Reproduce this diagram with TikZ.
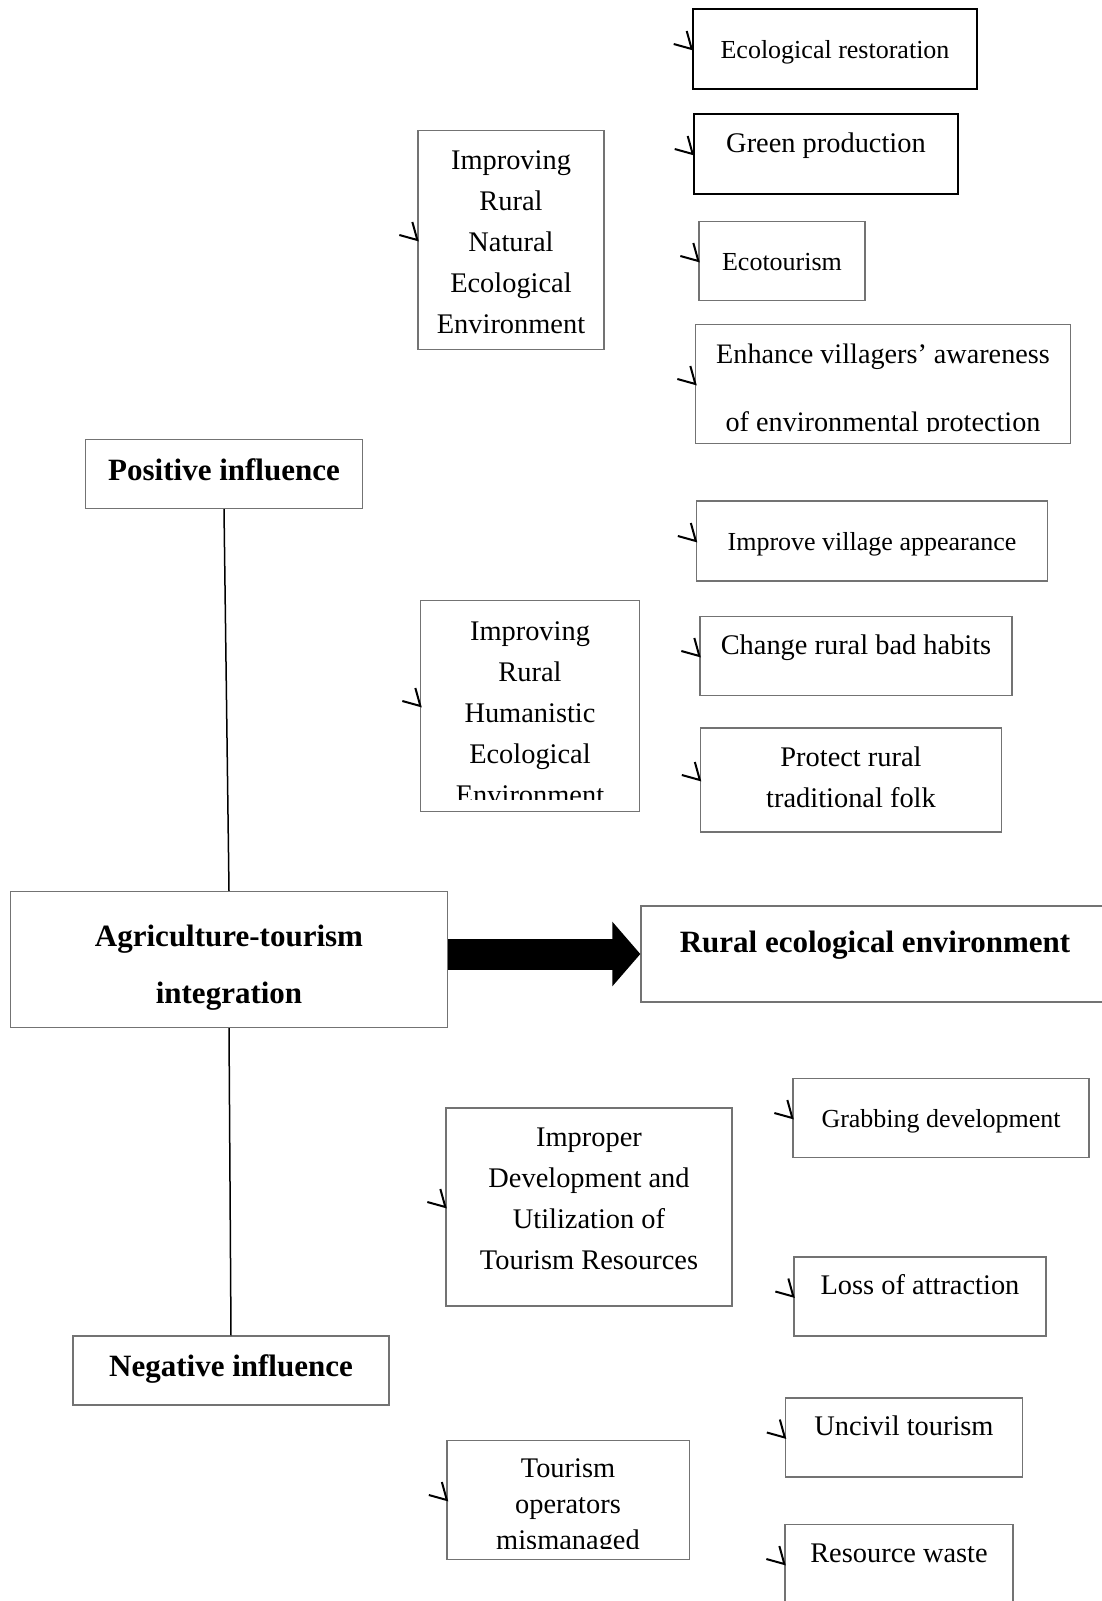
\documentclass[tikz,border=0pt]{standalone}
\usepackage{fontspec}
\setmainfont{Liberation Serif}
\usetikzlibrary{arrows.meta,calc}
\newcommand{\smallfs}{\fontsize{26}{41}\selectfont}
\newcommand{\largefs}{\fontsize{28.4}{41}\selectfont}
\newcommand{\boldfs}{\fontsize{31}{57}\selectfont\bfseries}
% small hook on the left side of a box
\newcommand{\hook}[1]{\draw[hookline] ($(#1.west)+(-18,-5)$) -- (#1.west) -- ($(#1.west)+(-5,-18)$);}

\begin{document}
\begin{tikzpicture}[x=1pt,y=-1pt,
    frame/.style={draw=black!55,line width=1.3pt},
    box/.style={frame,inner sep=0pt,align=center,font=\largefs},
    heavy/.style={box,draw=black,line width=2.6pt},
    mid/.style={text height=25pt,text depth=7pt},
    high/.style={text height=14pt,text depth=18pt},
    bmid/.style={text height=22pt,text depth=10pt},
    hookline/.style={line width=2pt},
    link/.style={line width=1.5pt}]
  \useasboundingbox (0,0) rectangle (1102,1601);

  % positive side
  \node[heavy,mid,font=\smallfs,minimum width=284pt,minimum height=80pt] (ecores) at (835,49) {Ecological restoration};
  \node[heavy,high,minimum width=264pt,minimum height=80pt] (greenp) at (826,154) {Green production};
  \node[box,mid,font=\smallfs,minimum width=166pt,minimum height=79pt] (ecotour) at (782,261) {Ecotourism};
  \begin{scope}
    \clip (690,320) rectangle (1080,431);
    \node[box,draw=none,font=\fontsize{28.2}{68.4}\selectfont,minimum width=374pt,minimum height=118pt] (enhance) at (883,384) {\rule{0pt}{33pt}Enhance villagers’ awareness\\of environmental protection};
  \end{scope}
  \draw[frame] (enhance.north west) rectangle (enhance.south east);
  \node[box,minimum width=186pt,minimum height=219pt] (natural) at (511,240) {\rule{0pt}{23pt}Improving\\Rural\\Natural\\Ecological\\Environment};
  \node[box,bmid,font=\boldfs,minimum width=277pt,minimum height=69pt] (positive) at (224,474) {Positive influence};

  \node[box,mid,font=\smallfs,minimum width=351pt,minimum height=80pt] (village) at (872,541) {Improve village appearance};
  \begin{scope}
    \clip (410,595) rectangle (650,799);
    \node[box,draw=none,minimum width=218pt,minimum height=210pt] (humanist) at (530,706) {\rule{0pt}{33.5pt}Improving\\Rural\\Humanistic\\Ecological\\Environment};
  \end{scope}
  \draw[frame] (humanist.north west) rectangle (humanist.south east);
  \node[box,high,minimum width=312pt,minimum height=79pt] (habits) at (856,656) {Change rural bad habits};
  \node[box,minimum width=301pt,minimum height=104pt] (folk) at (851,780) {Protect rural\\traditional folk\rule[-6pt]{0pt}{0pt}};

  % centre
  \node[box,font=\boldfs,minimum width=437pt,minimum height=136pt] (agri) at (229,959.5) {\rule{0pt}{37pt}Agriculture-tourism\\integration};
  \node[box,high,font=\boldfs,minimum width=468pt,minimum height=96pt] (rural) at (875,954) {Rural ecological environment};
  \draw[line width=31pt,-{Triangle[length=28pt,width=63pt]}] (agri.east |- rural.west) -- (rural.west);

  % negative side
  \node[box,mid,font=\smallfs,minimum width=296pt,minimum height=79pt] (grab) at (941,1118) {Grabbing development};
  \node[box,minimum width=286pt,minimum height=198pt] (improper) at (589,1207) {Improper\\Development and\\Utilization of\\Tourism Resources\rule[-17pt]{0pt}{0pt}};
  \node[box,high,minimum width=252pt,minimum height=79pt] (loss) at (920,1296.5) {Loss of attraction};
  \node[box,bmid,font=\boldfs,minimum width=316pt,minimum height=69pt] (negative) at (231,1370.6) {Negative influence};
  \node[box,high,minimum width=237pt,minimum height=79pt] (uncivil) at (904,1437.5) {Uncivil tourism};
  \begin{scope}
    \clip (440,1435) rectangle (700,1548);
    \node[box,draw=none,font=\fontsize{28.4}{36}\selectfont,minimum width=241pt,minimum height=118pt] (operators) at (568,1500) {\rule{0pt}{33pt}Tourism\\operators\\mismanaged};
  \end{scope}
  \draw[frame] (operators.north west) rectangle (operators.south east);
  \node[box,high,minimum width=228pt,minimum height=79pt] (waste) at (899,1564) {Resource waste};

  \draw[link] (positive.south) -- (agri.north);
  \draw[link] (agri.south) -- (negative.north);

  \hook{ecores} \hook{greenp} \hook{ecotour} \hook{enhance} \hook{natural}
  \hook{village} \hook{habits} \hook{humanist} \hook{folk}
  \hook{grab} \hook{improper} \hook{loss} \hook{uncivil} \hook{operators} \hook{waste}
\end{tikzpicture}
\end{document}
